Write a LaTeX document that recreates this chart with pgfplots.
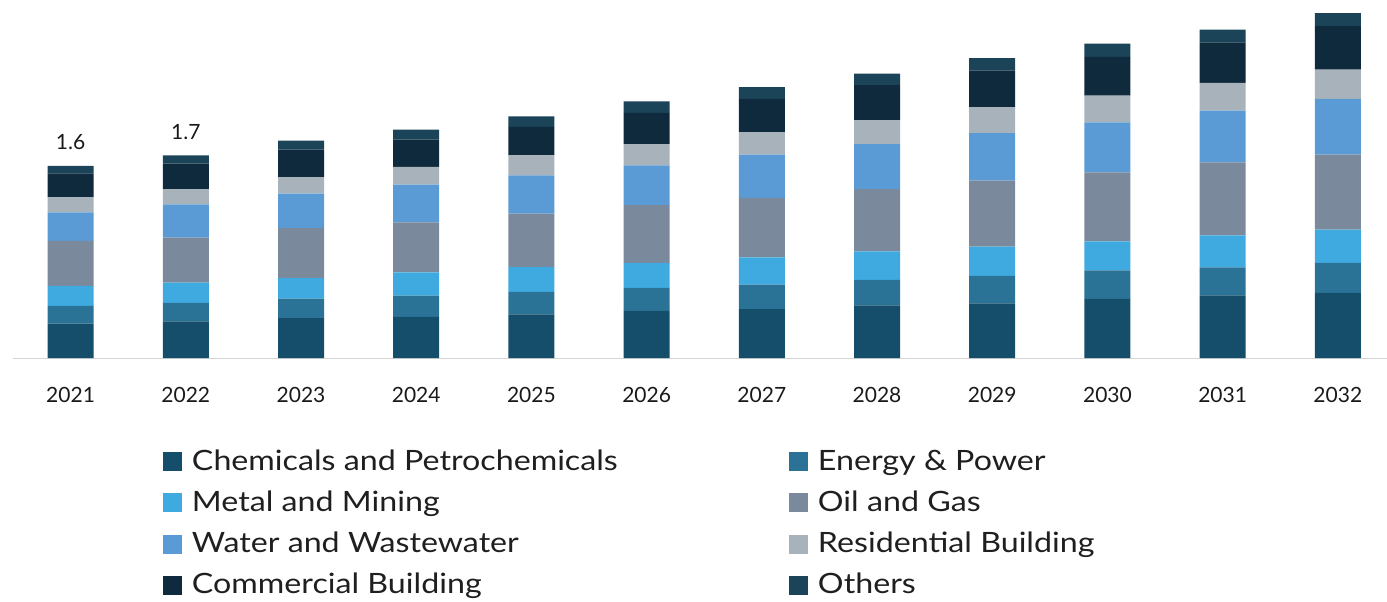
\documentclass[border=0pt]{standalone}
\usepackage{fontspec}
\setmainfont{Lato}
\newfontfamily\legfont[FakeStretch=1.15]{Lato}
\usepackage{pgfplots}
\usepackage{pgfplotstable}
\pgfplotsset{compat=1.18}
\definecolor{cChem}{RGB}{20,78,106}
\definecolor{cEner}{RGB}{42,115,150}
\definecolor{cMetal}{RGB}{62,170,224}
\definecolor{cOil}{RGB}{122,137,156}
\definecolor{cWater}{RGB}{90,155,214}
\definecolor{cRes}{RGB}{168,178,187}
\definecolor{cComm}{RGB}{14,42,60}
\definecolor{cOth}{RGB}{27,68,88}
\pgfplotstableread{
x chem energy metal oil water res comm others lab
0 0.287 0.147 0.167 0.375 0.237 0.125 0.200 0.063 1.6
1 0.306 0.153 0.169 0.375 0.278 0.125 0.214 0.069 1.7
2 0.333 0.161 0.172 0.417 0.286 0.139 0.228 0.075 {}
3 0.342 0.178 0.194 0.417 0.314 0.147 0.228 0.083 {}
4 0.364 0.186 0.208 0.445 0.319 0.167 0.236 0.089 {}
5 0.392 0.192 0.208 0.481 0.333 0.175 0.261 0.097 {}
6 0.408 0.203 0.228 0.495 0.361 0.186 0.278 0.097 {}
7 0.438 0.214 0.236 0.520 0.375 0.200 0.290 0.097 {}
8 0.456 0.228 0.244 0.550 0.395 0.217 0.305 0.103 {}
9 0.492 0.238 0.242 0.575 0.417 0.222 0.323 0.111 {}
10 0.522 0.233 0.267 0.608 0.431 0.231 0.338 0.106 {}
11 0.542 0.250 0.278 0.625 0.464 0.244 0.364 0.106 {}
}\data
\begin{document}
\begin{tikzpicture}
\begin{axis}[
  at={(0,0)}, anchor=south west,
  scale only axis, width=1376bp, height=358bp,
  xmin=-0.5, xmax=11.444, ymin=0, ymax=2.983,
  ybar stacked, bar width=46bp,
  axis x line=bottom, axis y line=none,
  x axis line style={-, draw=black!17, line width=1bp},
  xtick={0,...,11},
  xticklabels={2021,2022,2023,2024,2025,2026,2027,2028,2029,2030,2031,2032},
  major tick length=0pt,
  xticklabel style={anchor=base, yshift=-44.5bp, font=\fontsize{21bp}{25bp}\selectfont, text=black!90},
  clip=false,
  legend columns=2,
  legend cell align=left,
  legend style={draw=none, fill=none, inner sep=0pt, outer sep=0pt,
    at={(0.10901,-0.25140)}, anchor=north west,
    font=\legfont\fontsize{28bp}{34bp}\selectfont, text=black!88,
    row sep=12.3bp,
    nodes={anchor=base west, inner sep=0pt, text height=22bp, text depth=7bp}},
  legend image code/.code={\fill[#1] (0bp,-1bp) rectangle (19bp,18bp); \path (29bp,0bp);},
]
\addplot[fill=cChem, draw=none] table[x=x, y=chem] {\data};
\addlegendentry{\makebox[597bp][l]{Chemicals and Petrochemicals}}
\addplot[fill=cEner, draw=none] table[x=x, y=energy] {\data};
\addlegendentry{Energy \& Power}
\addplot[fill=cMetal, draw=none] table[x=x, y=metal] {\data};
\addlegendentry{\makebox[597bp][l]{Metal and Mining}}
\addplot[fill=cOil, draw=none] table[x=x, y=oil] {\data};
\addlegendentry{Oil and Gas}
\addplot[fill=cWater, draw=none] table[x=x, y=water] {\data};
\addlegendentry{\makebox[597bp][l]{Water and Wastewater}}
\addplot[fill=cRes, draw=none] table[x=x, y=res] {\data};
\addlegendentry{Residential Building}
\addplot[fill=cComm, draw=none] table[x=x, y=comm] {\data};
\addlegendentry{\makebox[597bp][l]{Commercial Building}}
\addplot[fill=cOth, draw=none,
  point meta=explicit symbolic,
  nodes near coords,
  nodes near coords style={anchor=base, yshift=20bp, inner sep=0pt, font=\fontsize{21bp}{25bp}\selectfont, text=black!90}]
  table[x=x, y=others, meta=lab] {\data};
\addlegendentry{Others}
\end{axis}
\pgfresetboundingbox
\path[use as bounding box] (-13bp,-244bp) rectangle (1374bp,358bp);
\end{tikzpicture}
\end{document}
